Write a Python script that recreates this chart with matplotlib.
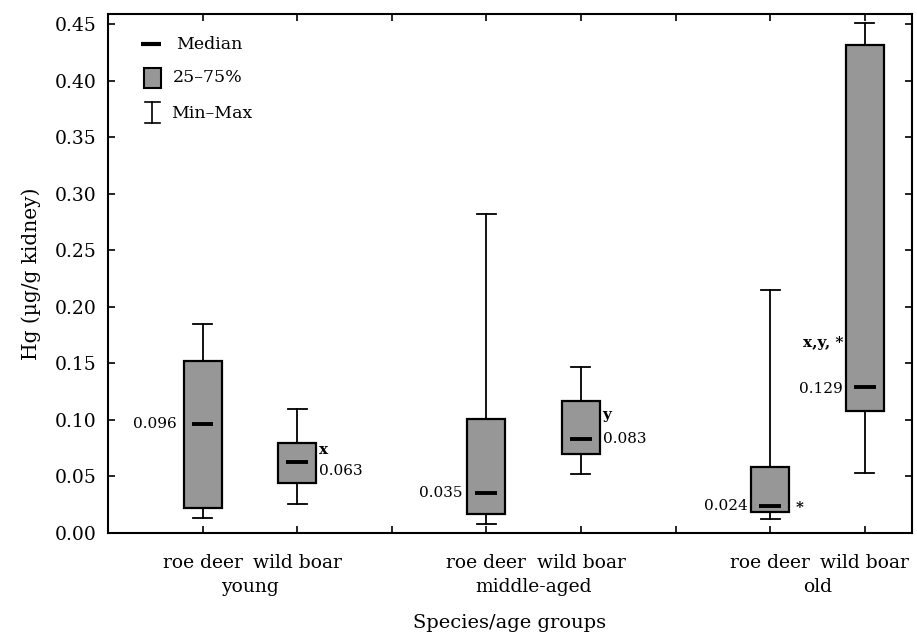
import numpy as np
import matplotlib
matplotlib.use("Agg")
import matplotlib.pyplot as plt
from matplotlib.transforms import blended_transform_factory

plt.rcParams['font.family'] = ['DejaVu Serif']
plt.rcParams['font.size'] = 12

# datos (Hg en riñón, µg/g)
grupos = ['young', 'middle-aged', 'old']
especies = ['roe deer', 'wild boar']
posiciones = [1, 2, 4, 5, 7, 8]
minimos = [0.013, 0.026, 0.008, 0.052, 0.012, 0.053]
q1 = [0.022, 0.044, 0.017, 0.070, 0.019, 0.108]
medianas = [0.096, 0.063, 0.035, 0.083, 0.024, 0.129]
q3 = [0.152, 0.080, 0.101, 0.117, 0.058, 0.432]
maximos = [0.185, 0.110, 0.282, 0.147, 0.215, 0.451]
letras = ['', 'x', '', 'y', '*', 'x,y, *']

gris = '#979797'

fig = plt.figure(figsize=(9.17, 6.33), dpi=100)
ax = fig.add_axes([108 / 917, 100 / 633, 804 / 917, 519 / 633])

ancho = 0.4
for p, mn, a, m, b, mx in zip(posiciones, minimos, q1, medianas, q3, maximos):
    # bigotes
    ax.plot([p, p], [mn, a], color='black', lw=1.3, zorder=1)
    ax.plot([p, p], [b, mx], color='black', lw=1.3, zorder=1)
    ax.plot([p - 0.1, p + 0.1], [mn, mn], color='black', lw=1.3)
    ax.plot([p - 0.1, p + 0.1], [mx, mx], color='black', lw=1.3)
    # caja
    ax.add_patch(plt.Rectangle((p - ancho / 2, a), ancho, b - a, facecolor=gris,
                               edgecolor='black', lw=1.6, zorder=2))
    # mediana
    ax.plot([p - 0.115, p + 0.115], [m, m], color='black', lw=2.8, zorder=3,
            solid_capstyle='butt')

# etiquetas de medianas y letras
fs = 11
ax.text(0.73, medianas[0], f'{medianas[0]:.3f}', ha='right', va='center', fontsize=fs)
ax.text(2.23, medianas[1] + 0.010, letras[1], ha='left', va='center', fontsize=fs, fontweight='bold')
ax.text(2.23, medianas[1] - 0.008, f'{medianas[1]:.3f}', ha='left', va='center', fontsize=fs)
ax.text(3.75, medianas[2], f'{medianas[2]:.3f}', ha='right', va='center', fontsize=fs)
ax.text(5.23, medianas[3] + 0.021, letras[3], ha='left', va='center', fontsize=fs, fontweight='bold')
ax.text(5.23, medianas[3], f'{medianas[3]:.3f}', ha='left', va='center', fontsize=fs)
ax.text(6.76, medianas[4], f'{medianas[4]:.3f}', ha='right', va='center', fontsize=fs)
ax.text(7.27, medianas[4] - 0.002, letras[4], ha='left', va='center', fontsize=fs, fontweight='bold')
ax.text(7.77, medianas[5] - 0.002, f'{medianas[5]:.3f}', ha='right', va='center', fontsize=fs)
ax.text(7.77, medianas[5] + 0.039, letras[5], ha='right', va='center', fontsize=fs, fontweight='bold')

# ejes
ax.set_xlim(0, 8.5)
ax.set_ylim(0, 0.459)
ax.set_yticks(np.arange(0, 0.451, 0.05))
ax.set_yticklabels([f'{v:.2f}' for v in np.arange(0, 0.451, 0.05)], fontsize=13.5)
ax.set_xticks([1, 2, 3, 4, 5, 6, 7, 8])
ax.set_xticklabels(['roe deer', 'wild boar', '', 'roe deer', 'wild boar', '', 'roe deer', 'wild boar'],
                   fontsize=13.5)
ax.tick_params(direction='in', top=True, right=True, length=5, width=1.2, pad=8)
ax.tick_params(axis='x', pad=15)
for s in ax.spines.values():
    s.set_linewidth(1.5)

trans = blended_transform_factory(ax.transData, ax.transAxes)
for i, g in enumerate(grupos):
    ax.text(1.5 + 3 * i, -0.104, g, transform=trans, ha='center', va='center', fontsize=13.5)

ax.set_xlabel('Species/age groups', fontsize=14, labelpad=30)
ax.set_ylabel('Hg (µg/g kidney)', fontsize=14.5, labelpad=10)

# leyenda manual
ax.plot([0.041, 0.066], [0.942, 0.942], transform=ax.transAxes, color='black', lw=3, solid_capstyle='butt')
ax.text(0.085, 0.942, 'Median', transform=ax.transAxes, va='center', fontsize=12.5)
ax.add_patch(plt.Rectangle((0.045, 0.857), 0.021, 0.039, transform=ax.transAxes,
                           facecolor=gris, edgecolor='black', lw=1.5))
ax.text(0.080, 0.877, '25–75%', transform=ax.transAxes, va='center', fontsize=12.5)
cx = 0.0553
ax.plot([cx, cx], [0.790, 0.830], transform=ax.transAxes, color='black', lw=1.2)
ax.plot([cx - 0.0094, cx + 0.0094], [0.830, 0.830], transform=ax.transAxes, color='black', lw=1.2)
ax.plot([cx - 0.0094, cx + 0.0094], [0.790, 0.790], transform=ax.transAxes, color='black', lw=1.2)
ax.text(0.078, 0.809, 'Min–Max', transform=ax.transAxes, va='center', fontsize=12.5)

fig.savefig('out.png', dpi=100)
